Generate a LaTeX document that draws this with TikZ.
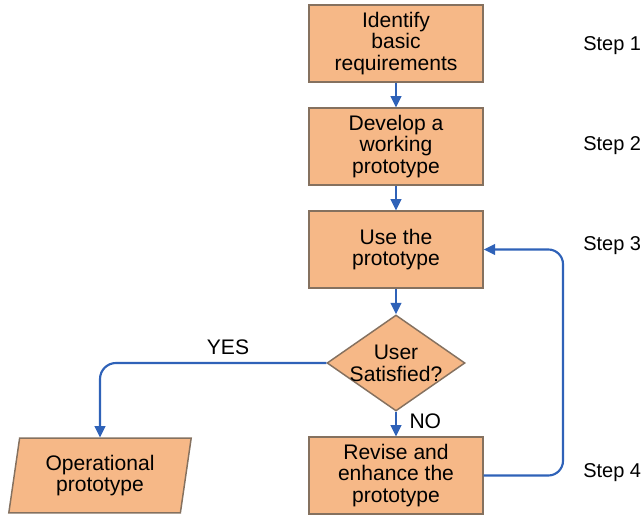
\documentclass[tikz,border=0pt]{standalone}
\usepackage{fontspec}
\setmainfont{Liberation Sans}
\usepackage{xcolor}
\usetikzlibrary{shapes}
\usetikzlibrary{arrows.meta}
\definecolor{boxfill}{HTML}{F6B887}
\definecolor{boxline}{HTML}{85715F}
\definecolor{flow}{HTML}{2F62B8}
\newcommand{\bigtxt}{\fontsize{15.8}{16.4}\selectfont}

\begin{document}
\begin{tikzpicture}[x=0.75pt,y=-0.75pt,
  stepbox/.style={draw=boxline,fill=boxfill,line width=1.1pt,minimum width=130.5pt,minimum height=57.5pt,align=center,inner sep=0pt,font=\bigtxt},
  askbox/.style={diamond,draw=boxline,fill=boxfill,line width=1.1pt,minimum width=103.5pt,minimum height=72pt,inner sep=0pt},
  outbox/.style={trapezium,trapezium left angle=80,trapezium right angle=100,trapezium stretches=true,draw=boxline,fill=boxfill,line width=1.1pt,minimum width=138pt,minimum height=56pt,inner sep=0pt,align=center,font=\bigtxt},
  link/.style={draw=flow,line width=1.6pt,-{Triangle[length=8.5pt,width=8pt]}},
  lbl/.style={font=\bigtxt},
  steplbl/.style={font=\fontsize{15}{16}\selectfont,anchor=west,inner sep=0pt}]
\useasboundingbox (0,0) rectangle (644,516);
\node[stepbox] (ident) at (396,43.5) {Identify\\basic\\requirements};
\node[stepbox] (devel) at (396,146.5) {Develop a\\working\\prototype};
\node[stepbox] (use) at (396,249.5) {Use the\\prototype};
\node[askbox] (ask) at (396,363) {};
\node[lbl,align=center] (askt) at (396,363) {User\\Satisfied?};
\node[stepbox] (fix) at (396,475.5) {Revise and\\enhance the\\prototype};
\node[outbox] (oper) at (100,475.5) {Operational\\prototype};
% steps on the right
\node[steplbl] (s1) at (583,46) {Step 1};
\node[steplbl] (s2) at (583,146) {Step 2};
\node[steplbl] (s3) at (583,246) {Step 3};
\node[steplbl] (s4) at (583,473) {Step 4};
\draw[link] (ident) -- (devel);
\draw[link] (devel) -- (use);
\draw[link] (use) -- (ask);
\draw[link] (ask) -- (fix) node[lbl,pos=0.4,right=6pt] (no) {NO};
\coordinate (back) at (563,360);
\draw[link,rounded corners=11pt] (fix.east) -| (back) |- (use.east);
\draw[link,rounded corners=12pt] (ask.west) -| (oper.north);
\node[lbl] (yes) at (228,347) {YES};
\end{tikzpicture}
\end{document}
